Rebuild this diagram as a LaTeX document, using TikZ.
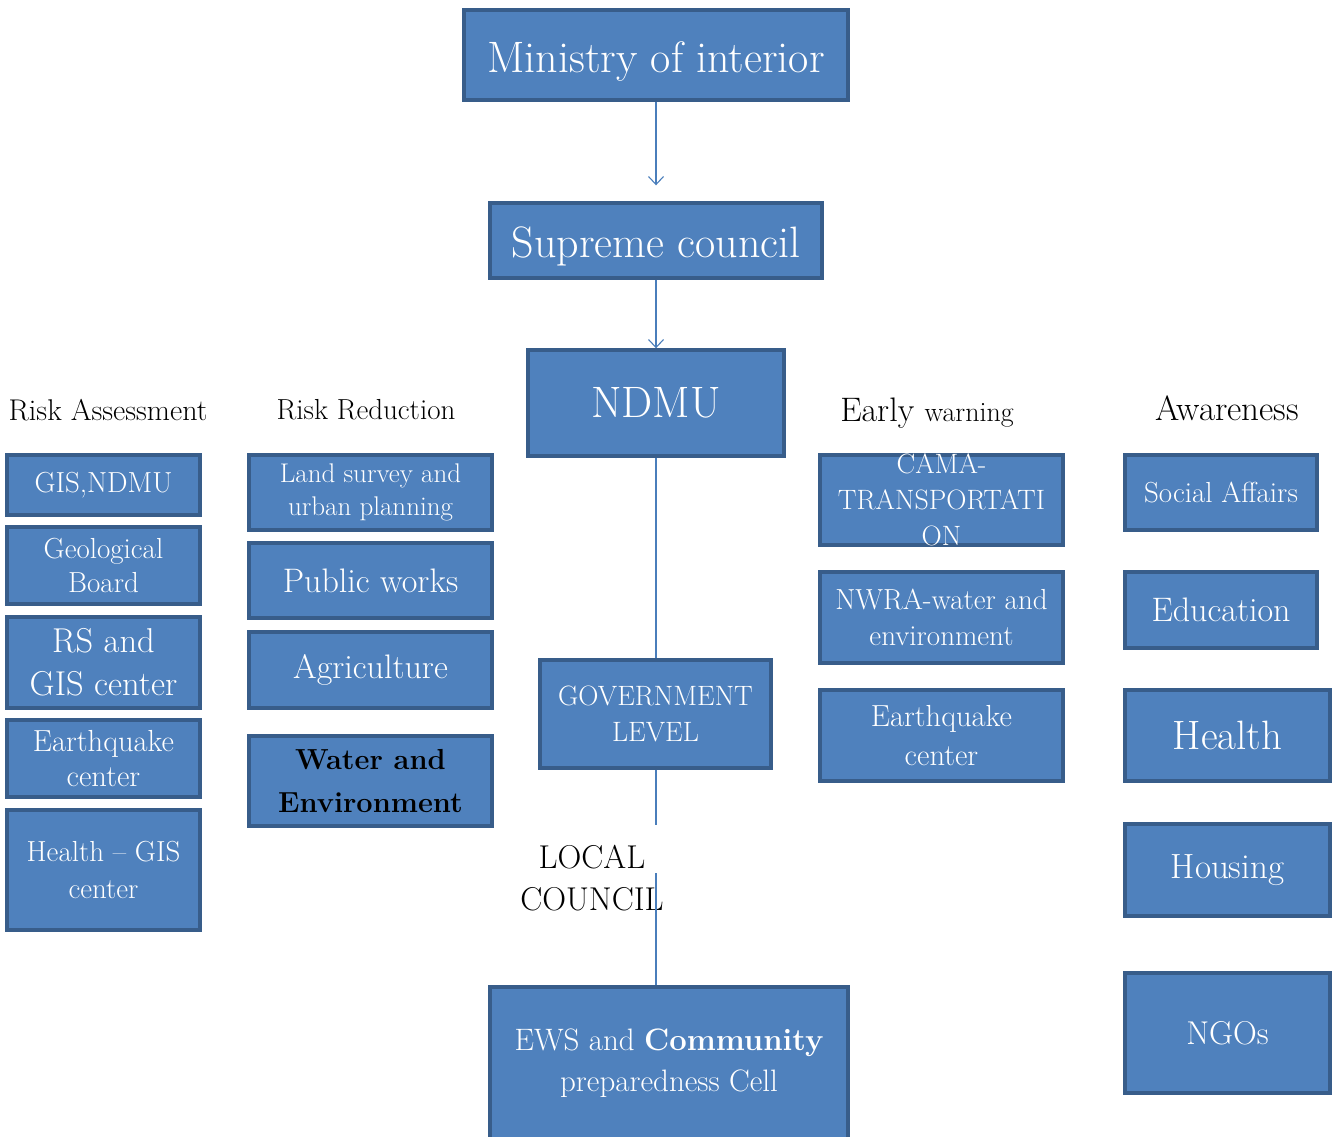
\documentclass[tikz,border=0pt]{standalone}
\usetikzlibrary{arrows.meta}
\definecolor{boxfill}{HTML}{4F81BD}
\definecolor{boxline}{HTML}{385D8A}
\definecolor{conn}{HTML}{4A7EBB}
\newcommand\fs[1]{\fontsize{#1}{\fpeval{1.25*#1}}\selectfont}
\newcommand\bx[7]{\node[bx, minimum width={#4-#2}, minimum height={#5-#3}, font=\fs{#7}] (#1) at ({(#2+#4)/2},{(#3+#5)/2}) {#6};}
\tikzset{
  bx/.style={draw=boxline, fill=boxfill, line width=3.4pt, text=white, align=center, inner sep=0pt},
  hdr/.style={text=black, inner sep=0pt, align=center},
  conline/.style={draw=conn, line width=1.1pt},
  conarrow/.style={conline, -{Straight Barb[length=8pt,width=15pt,line width=1.1pt]}}
}
\begin{document}
\begin{tikzpicture}[x=1pt,y=-1pt]
\useasboundingbox (0,0) rectangle (1332,1136);
% top chain
\bx{min}{464}{10}{848}{100}{\rule{0pt}{44pt}Ministry of interior}{44}
\bx{sup}{490}{203}{822}{278}{\rule{0pt}{42pt}Supreme council}{44}
\bx{ndmu}{528}{350}{784}{456}{NDMU}{44}
\bx{gov}{540}{660}{771}{768}{GOVERNMENT\\[1pt]LEVEL}{28}
\bx{ews}{490}{987}{848}{1140}{EWS and \textbf{Community}\\[2pt]preparedness Cell}{31}
\node[hdr, font=\fs{33}] (local) at (592,878) {LOCAL\\[0pt]COUNCIL};
\coordinate (g1) at (656,825);
\coordinate (g2) at (656,873);
\draw[conarrow, shorten >=16pt] (min.south) -- (sup.north);
\draw[conarrow] (sup.south) -- (ndmu.north);
\draw[conline] (ndmu.south) -- (ndmu.south |- gov.north);
\draw[conline] (ndmu.south |- gov.south) -- (g1);
\draw[conline] (g2) -- (g2 |- ews.north);
% headers
\node[hdr, font=\fs{30}] (hra) at (108,410) {Risk Assessment};
\node[hdr, font=\fs{29}] (hrr) at (366,410) {Risk Reduction};
\node[hdr, font=\fs{34}] (hew) at (927,413) {Early {\fs{28}warning}};
\node[hdr, font=\fs{35}] (haw) at (1227,408) {Awareness};
% risk assessment
\bx{ra1}{7}{455}{200}{515}{GIS,NDMU}{29}
\bx{ra2}{7}{527}{200}{604}{Geological\\[-2pt]Board}{29}
\bx{ra3}{7}{617}{200}{708}{RS and\\[0pt]GIS center}{34.5}
\bx{ra4}{7}{720}{200}{797}{Earthquake\\[-3pt]center}{30.5}
\bx{ra5}{7}{810}{200}{930}{Health -- GIS\\[1pt]center}{29}
% risk reduction
\bx{rr1}{249}{455}{492}{530}{Land survey and\\[-1pt]urban planning}{27}
\bx{rr2}{249}{543}{492}{618}{Public works}{34}
\bx{rr3}{249}{632}{492}{708}{Agriculture}{34}
\node[bx, text=black, minimum width=243, minimum height=90, font=\fs{29}\bfseries] (rr4) at (370.5,781) {Water and\\[6pt]Environment};
% early warning
\node[bx, minimum width=243, minimum height=90] (ew1) at (941.5,500) {};
\node[text=white, align=center, inner sep=0pt, font=\fs{28}] (ew1t) at (ew1.center) {CAMA-\\[1pt]TRANSPORTATI\\[1pt]ON};
\bx{ew2}{820}{572}{1063}{663}{NWRA-water and\\[0pt]environment}{29}
\bx{ew3}{820}{690}{1063}{781}{Earthquake\\[0pt]center}{30.5}
% awareness
\bx{aw1}{1125}{455}{1317}{530}{Social Affairs}{29}
\bx{aw2}{1125}{572}{1317}{648}{Education}{34}
\bx{aw3}{1125}{690}{1330}{781}{Health}{41}
\bx{aw4}{1125}{824}{1330}{916}{Housing}{35}
\bx{aw5}{1125}{973}{1330}{1093}{NGOs}{33}
\end{tikzpicture}
\end{document}
